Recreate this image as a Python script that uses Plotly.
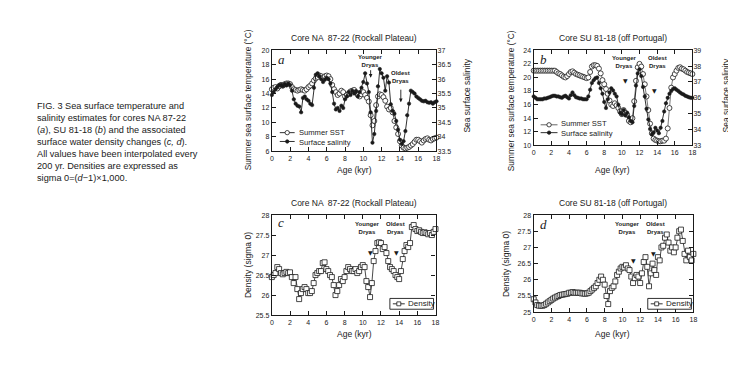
import plotly.graph_objects as go

W, H = 736, 367

# ---------------- data (200-yr steps) ----------------
age = [round(i * 0.2, 1) for i in range(91)]

sst_a = [14.6, 14.8, 14.9, 14.7, 15.0, 15.2, 15.1, 15.3, 15.4, 15.4,
         15.3, 14.9, 14.6, 14.5, 14.4, 14.5, 14.6, 14.5, 14.4, 14.6,
         14.9, 15.1, 15.4, 15.8, 16.1, 16.3, 16.5, 16.4, 16.2, 16.4,
         16.5, 16.4, 16.0, 15.2, 14.6, 14.2, 13.8, 14.0, 14.4, 14.2,
         13.6, 13.8, 14.0, 14.3, 14.4, 14.5, 14.2, 13.8, 13.6, 13.9,
         14.2, 13.8, 13.4, 12.9, 11.0, 9.6, 10.2, 12.4, 13.6, 13.9,
         13.8, 13.5, 13.0, 12.2, 11.8, 12.0, 11.4, 10.2, 9.3, 8.4,
         7.4, 6.8, 6.5, 6.4, 6.5, 6.6, 6.8, 7.0, 7.3, 7.6,
         7.6, 7.4, 7.2, 7.5, 7.7, 7.8, 7.6, 7.5, 7.7, 7.8, 7.9]

sal_a = [35.45, 35.55, 35.65, 35.73, 35.8, 35.8, 35.75, 35.83, 35.78, 35.85,
         35.8, 35.6, 35.3, 35.15, 35.08, 35.05, 34.85, 35.35, 35.4, 35.3,
         35.25, 35.15, 35.1, 35.7, 36.15, 36.2, 36.1, 36.0, 35.9, 35.98,
         36.05, 36.0, 35.85, 35.55, 35.15, 34.95, 35.0, 34.9, 35.08, 35.0,
         35.3, 35.4, 35.55, 35.45, 35.6, 35.5, 35.58, 35.4, 35.55, 35.7,
         35.9, 36.2, 35.85, 35.55, 34.85, 33.8, 34.1, 34.9, 35.75, 36.35,
         36.2, 36.05, 35.6, 36.1, 35.88, 35.13, 34.9, 34.8, 34.55, 34.25,
         33.9, 33.75, 33.85, 34.2, 34.75, 35.15, 35.6, 35.55, 35.5, 35.4,
         35.35, 35.3, 35.25, 35.23, 35.25, 35.2, 35.18, 35.2, 35.15, 35.2, 35.23]

sst_b = [21.0, 21.0, 21.0, 21.0, 21.0, 21.0, 21.0, 21.0, 21.0, 21.0,
         21.0, 21.0, 21.0, 20.8, 20.6, 20.5, 20.3, 20.1, 20.0, 20.2,
         20.5, 20.8, 20.9, 20.7, 20.5, 20.4, 20.3, 20.2, 20.1, 20.0,
         19.9, 20.0, 20.8, 21.6, 21.8, 21.8, 21.7, 21.3, 20.6, 19.6,
         19.0, 18.3, 17.6, 16.6, 16.0, 15.8, 16.2, 15.9, 15.5, 15.0,
         14.6, 15.2, 14.8, 14.5, 13.6, 13.4, 14.0, 16.5, 19.5, 21.5,
         22.0, 21.6, 20.5, 19.0, 17.2, 15.2, 13.2, 11.8, 11.0, 10.8,
         10.7, 10.6, 10.6, 10.7, 10.7, 11.0, 12.5, 15.5, 18.5, 20.0,
         20.5, 21.0, 21.4, 21.5, 21.3, 21.2, 21.0, 20.8, 20.7, 20.6, 20.5]

sal_b = [36.09, 36.0, 35.91, 35.91, 35.91, 35.91, 35.96, 35.96, 36.0, 36.04,
         36.09, 36.13, 36.13, 36.09, 36.09, 36.04, 36.0, 36.09, 36.13, 36.04,
         35.96, 36.17, 36.34, 36.17, 36.04, 36.0, 35.96, 35.96, 35.91, 35.91,
         35.91, 36.09, 36.51, 36.94, 37.11, 37.24, 37.29, 36.94, 36.6, 36.26,
         35.74, 35.36, 35.91, 36.34, 36.6, 36.47, 36.26, 36.09, 35.57, 35.06,
         34.97, 35.23, 34.89, 35.06, 34.76, 34.54, 34.46, 35.49, 36.77, 37.54,
         37.8, 37.37, 36.69, 36.09, 35.31, 34.63, 34.03, 33.69, 33.81, 34.11,
         33.94, 33.77, 34.11, 34.54, 35.14, 35.66, 36.0, 36.26, 36.43, 36.56,
         36.6, 36.51, 36.43, 36.34, 36.26, 36.21, 36.13, 36.09, 36.04, 36.0, 36.0]

dens_c = [26.45, 26.5, 26.55, 26.7, 26.65, 26.55, 26.52, 26.55, 26.58, 26.55,
          26.57, 26.45, 26.3, 26.45, 26.15, 25.9, 26.05, 26.15, 26.2, 26.15,
          26.05, 26.05, 26.1, 26.3, 26.5, 26.55, 26.6, 26.6, 26.8, 26.82,
          26.65, 26.6, 26.5, 26.45, 26.25, 26.0, 26.1, 26.25, 26.4, 26.35,
          26.45, 26.6, 26.7, 26.65, 26.6, 26.6, 26.65, 26.55, 26.6, 26.7,
          26.75, 26.7, 26.35, 26.2, 25.95, 26.3, 26.85, 27.1, 27.3, 27.32,
          27.3, 27.15, 27.2, 27.05, 26.85, 26.7, 26.65, 26.6, 26.5, 26.45,
          26.4, 26.6, 26.9, 27.1, 27.25, 27.2, 27.3, 27.7, 27.75, 27.65,
          27.6, 27.62, 27.58, 27.55, 27.57, 27.55, 27.52, 27.55, 27.5, 27.58, 27.65]

dens_d = [25.4, 25.3, 25.22, 25.2, 25.2, 25.2, 25.22, 25.26, 25.3, 25.34,
          25.38, 25.42, 25.45, 25.48, 25.5, 25.53, 25.54, 25.55, 25.56, 25.57,
          25.6, 25.6, 25.62, 25.6, 25.6, 25.6, 25.6, 25.58, 25.58, 25.57,
          25.58, 25.6, 25.65, 25.7, 25.75, 25.8, 25.9, 26.0, 26.1, 26.0,
          25.85, 25.5, 25.25, 25.65, 25.75, 25.8, 25.95, 26.15, 26.25, 26.35,
          26.4, 26.38, 26.45, 26.35, 26.3, 26.1, 25.9, 26.05, 26.15, 26.1,
          25.9, 26.2, 26.55, 26.7, 26.4, 25.8, 26.2, 26.5, 26.3, 26.15,
          26.7, 26.6, 27.0, 27.05, 27.3, 27.4, 27.15, 26.9, 27.0, 26.85,
          27.0, 27.3, 27.5, 27.55, 27.2, 26.8, 26.6, 26.9, 26.7, 26.6, 26.8]

# ---------------- helpers ----------------
def X(px):
    return px / W


def Y(py):
    return 1 - py / H


FONT = "Liberation Sans, Arial, sans-serif"
INK = "#1a1a1a"

fig = go.Figure()

open_marker = dict(symbol="circle", size=5, color="white", line=dict(color=INK, width=0.8))
dot_marker = dict(symbol="circle", size=3.5, color=INK, line=dict(color=INK, width=0.5))
sq_marker = dict(symbol="square", size=5, color="white", line=dict(color=INK, width=0.8))

# panel a
fig.add_trace(go.Scatter(x=age, y=sal_a, mode="lines+markers", xaxis="x", yaxis="y2",
                         line=dict(color=INK, width=0.9), marker=dot_marker, cliponaxis=False))
fig.add_trace(go.Scatter(x=age, y=sst_a, mode="lines+markers", xaxis="x", yaxis="y",
                         line=dict(color=INK, width=0.8), marker=open_marker, cliponaxis=False))
# panel b
fig.add_trace(go.Scatter(x=age, y=sal_b, mode="lines+markers", xaxis="x2", yaxis="y4",
                         line=dict(color=INK, width=0.9), marker=dot_marker, cliponaxis=False))
fig.add_trace(go.Scatter(x=age, y=sst_b, mode="lines+markers", xaxis="x2", yaxis="y3",
                         line=dict(color="#555", width=0.8), marker=open_marker, cliponaxis=False))
# panel c, d
fig.add_trace(go.Scatter(x=age, y=dens_c, mode="lines+markers", xaxis="x3", yaxis="y5",
                         line=dict(color=INK, width=0.8), marker=sq_marker, cliponaxis=False))
fig.add_trace(go.Scatter(x=age, y=dens_d, mode="lines+markers", xaxis="x4", yaxis="y6",
                         line=dict(color=INK, width=0.8), marker=sq_marker, cliponaxis=False))

ax_common = dict(showline=True, linecolor=INK, linewidth=1.3, ticks="inside", ticklen=4,
                 tickwidth=1, tickcolor=INK, showgrid=False, zeroline=False,
                 tickfont=dict(family=FONT, size=7, color=INK), fixedrange=True)


def xax(x0, x1, anchor):
    d = dict(ax_common)
    d.update(domain=[X(x0), X(x1)], range=[0, 18], dtick=2, tick0=0, mirror="ticks", anchor=anchor)
    return d


def yax(y0, y1, rng, dt, anchor, mirror="ticks"):
    d = dict(ax_common)
    d.update(domain=[Y(y1), Y(y0)], range=rng, dtick=dt, tick0=rng[0], mirror=mirror, anchor=anchor)
    return d


yr2 = dict(ax_common)
yr2.update(overlaying="y", side="right", range=[33.5, 37], dtick=0.5, tick0=33.5, anchor="x", showline=False)
yr4 = dict(ax_common)
yr4.update(overlaying="y3", side="right", range=[33, 39], dtick=1, tick0=33, anchor="x2", showline=False)

fig.update_layout(
    width=W, height=H, autosize=False,
    margin=dict(l=0, r=0, t=0, b=0),
    paper_bgcolor="white", plot_bgcolor="white",
    showlegend=False,
    font=dict(family=FONT, color=INK),
    xaxis=xax(264, 430, "y"),
    yaxis=yax(39, 142, [6, 20], 2, "x", mirror=True),
    yaxis2=yr2,
    xaxis2=xax(528, 688, "y3"),
    yaxis3=yax(39, 136, [10, 24], 2, "x2", mirror=True),
    yaxis4=yr4,
    xaxis3=xax(264, 429, "y5"),
    yaxis5=yax(207, 309, [25.5, 28], 0.5, "x3"),
    xaxis4=xax(528, 689, "y6"),
    yaxis6=yax(207, 306, [25, 28], 0.5, "x4"),
)

ann = []
shapes = []


def ptext(text, px, py, size=8.5, angle=0, xanchor="center", yanchor="middle", **kw):
    ann.append(dict(text=text, x=X(px), y=Y(py), xref="paper", yref="paper", showarrow=False,
                    xanchor=xanchor, yanchor=yanchor, textangle=angle,
                    font=dict(family=kw.pop("family", FONT), size=size, color=INK), **kw))


# caption
caption = ("FIG. 3 Sea surface temperature and<br>"
           "salinity estimates for cores NA 87-22<br>"
           "(<i>a</i>), SU 81-18 (<i>b</i>) and the associated<br>"
           "surface water density changes (<i>c, d</i>).<br>"
           "All values have been interpolated every<br>"
           "200 yr. Densities are expressed as<br>"
           "sigma 0=(<i>d</i>\u22121)\u00d71,000.")
ptext(caption, 25, 89, size=9.2, xanchor="left", yanchor="top", align="left")

# titles
ptext("Core NA  87-22 (Rockall Plateau)", 347, 27, size=8.5)
ptext("Core SU 81-18 (off Portugal)", 608, 27, size=8.5)
ptext("Core NA  87-22 (Rockall Plateau)", 347, 195, size=8.5)
ptext("Core SU 81-18 (off Portugal)", 608, 195, size=8.5)

# axis titles
for cx, cy in [(347, 161), (607, 161), (347, 328), (607, 328)]:
    ptext("Age (kyr)", cx, cy, size=8.5)
ptext("Summer sea surface temperature (\u00b0C)", 240, 90, size=8.3, angle=-90)
ptext("Summer sea surface temperature (\u00b0C)", 505, 90, size=8.3, angle=-90)
ptext("Sea surface salinity", 461, 85, size=8.5, angle=-90)
ptext("Sea surface salinity", 722, 85, size=8.5, angle=-90)
ptext("Density (sigma 0)", 240, 258, size=8.5, angle=-90)
ptext("Density (sigma 0)", 500, 257, size=8.5, angle=-90)

# panel letters
for letter, px, py in [("a", 268, 48), ("b", 532, 48), ("c", 268, 215), ("d", 532, 217)]:
    ptext("<i>%s</i>" % letter, px, py, size=13, xanchor="left", family="Liberation Serif, Times New Roman, serif")


# legends (a, b): symbols drawn as shapes, both labels in one text block
def legend_symbol(x0, x1, py, filled, lcolor=INK):
    shapes.append(dict(type="line", xref="paper", yref="paper", x0=X(x0), x1=X(x1), y0=Y(py), y1=Y(py),
                       line=dict(color=lcolor, width=0.9)))
    cx = (x0 + x1) / 2
    r = 2.2 if not filled else 1.7
    shapes.append(dict(type="circle", xref="paper", yref="paper", x0=X(cx - r), x1=X(cx + r),
                       y0=Y(py + r), y1=Y(py - r), fillcolor=INK if filled else "white",
                       line=dict(color=INK, width=0.8)))


legend_symbol(272, 287, 123, False)
legend_symbol(272, 287, 132, True)
ptext("Summer SST<br>Surface salinity", 290, 127.5, size=7.6, xanchor="left", align="left", borderpad=0)
legend_symbol(535, 552, 115, False, "#555")
legend_symbol(535, 552, 123, True)
ptext("Summer SST<br>Surface salinity", 555, 119, size=7.6, xanchor="left", align="left", borderpad=0)

# density legend boxes
for bx in (383, 643):
    shapes.append(dict(type="rect", xref="paper", yref="paper", x0=X(bx), x1=X(bx + 44),
                       y0=Y(303), y1=Y(292), line=dict(color=INK, width=0.9), fillcolor="white"))
    shapes.append(dict(type="line", xref="paper", yref="paper", x0=X(bx + 3), x1=X(bx + 15),
                       y0=Y(297.5), y1=Y(297.5), line=dict(color=INK, width=0.9)))
    shapes.append(dict(type="rect", xref="paper", yref="paper", x0=X(bx + 7), x1=X(bx + 11),
                       y0=Y(299.5), y1=Y(295.5), line=dict(color=INK, width=0.8), fillcolor="white"))
    ptext("Density", bx + 17, 297.5, size=8, xanchor="left", borderpad=0)


# Dryas annotations
def dtext(text, xa, ya, x, y):
    ann.append(dict(text="<b>%s</b>" % text, x=x, y=y, xref=xa, yref=ya, showarrow=False,
                    xanchor="center", yanchor="middle", align="center", borderpad=0,
                    font=dict(family=FONT, size=6, color=INK)))


def darrow(xa, ya, x, y, length):
    ann.append(dict(text="", x=x, y=y, xref=xa, yref=ya, showarrow=True, ax=0, ay=-length,
                    arrowhead=2, arrowsize=0.8, arrowwidth=0.9, arrowcolor=INK))


def tri(xa, ya, x, y):
    ann.append(dict(text="\u25bc", x=x, y=y, xref=xa, yref=ya, showarrow=False, borderpad=0,
                    font=dict(family="DejaVu Sans", size=6, color=INK)))


dtext("Younger<br>Dryas", "x", "y", 10.8, 18.5)
darrow("x", "y", 10.8, 16.2, 9)
dtext("Oldest<br>Dryas", "x", "y", 14.1, 16.3)
darrow("x", "y", 14.1, 12.8, 14)

dtext("Younger<br>Dryas", "x2", "y3", 10.3, 22.3)
tri("x2", "y3", 10.4, 19.5)
dtext("Oldest<br>Dryas", "x2", "y3", 14.0, 22.3)
tri("x2", "y3", 13.7, 18.1)

dtext("Younger<br>Dryas", "x3", "y5", 10.5, 27.67)
tri("x3", "y5", 10.8, 27.07)
dtext("Oldest<br>Dryas", "x3", "y5", 13.6, 27.67)
tri("x3", "y5", 13.7, 27.07)

dtext("Younger<br>Dryas", "x4", "y6", 10.6, 27.6)
tri("x4", "y6", 11.2, 26.6)
dtext("Oldest<br>Dryas", "x4", "y6", 13.7, 27.6)
tri("x4", "y6", 13.45, 26.8)

fig.update_layout(annotations=ann, shapes=shapes)
fig.write_html("out.html")
